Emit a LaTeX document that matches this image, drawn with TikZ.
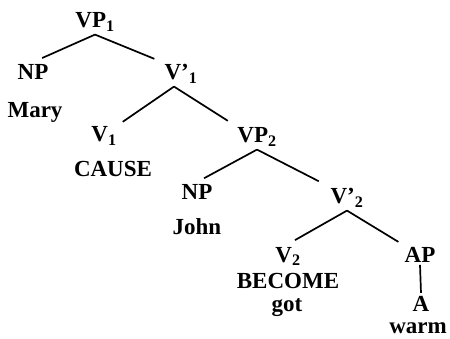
\documentclass[tikz,border=0pt]{standalone}
\usepackage{fontspec}
\setmainfont{Liberation Serif}
\usetikzlibrary{positioning}

\begin{document}
\begin{tikzpicture}[x=1pt,y=-1pt,line width=1.7pt,
    cat/.style={anchor=base,inner sep=2pt,font=\fontsize{23}{25}\selectfont\bfseries},
    word/.style={cat}]
      \useasboundingbox (0,0) rectangle (450,339);
      % categories
      \node[cat] (vp1) at (95,28) {VP\textsubscript{1}};
      \node[cat] (np1) at (33,80) {NP};
      \node[cat] (vbar1) at (181,80) {V'\textsubscript{1}};
      \node[cat] (v1) at (104,142) {V\textsubscript{1}};
      \node[cat] (vp2) at (257,143) {VP\textsubscript{2}};
      \node[cat] (np2) at (197,200) {NP};
      \node[cat] (vbar2) at (347,204) {V'\textsubscript{2}};
      \node[cat] (v2) at (288,262) {V\textsubscript{2}};
      \node[cat] (ap) at (420,262) {AP};
      \node[cat] (a) at (421,311) {A};
      % words
      \node[word] (mary) at (35,118) {Mary};
      \node[word] (cause) at (113,177) {CAUSE};
      \node[word] (john) at (197,235) {John};
      \node[word] (become) at (288,289) {BECOME};
      \node[word] (got) at (287,311) {got};
      \node[word] (warm) at (418,333) {warm};

      \path (vp1.south) edge[shorten >=10pt] (np1.north)
            (vp1.south) edge[shorten >=8pt] (vbar1.north west)
            ([xshift=-7pt]vbar1.south) edge[shorten >=4pt] (v1.north east)
            ([xshift=-7pt]vbar1.south) edge[shorten >=8pt] (vp2.north west)
            (vp2.south) edge[shorten >=8pt] (np2.north)
            (vp2.south) edge[shorten >=10pt] (vbar2.north west)
            (vbar2.south) edge[shorten >=8pt] (v2.north)
            (vbar2.south) edge[shorten >=4pt] (ap.north west)
            (ap.south) edge (a.north);
\end{tikzpicture}
\end{document}
